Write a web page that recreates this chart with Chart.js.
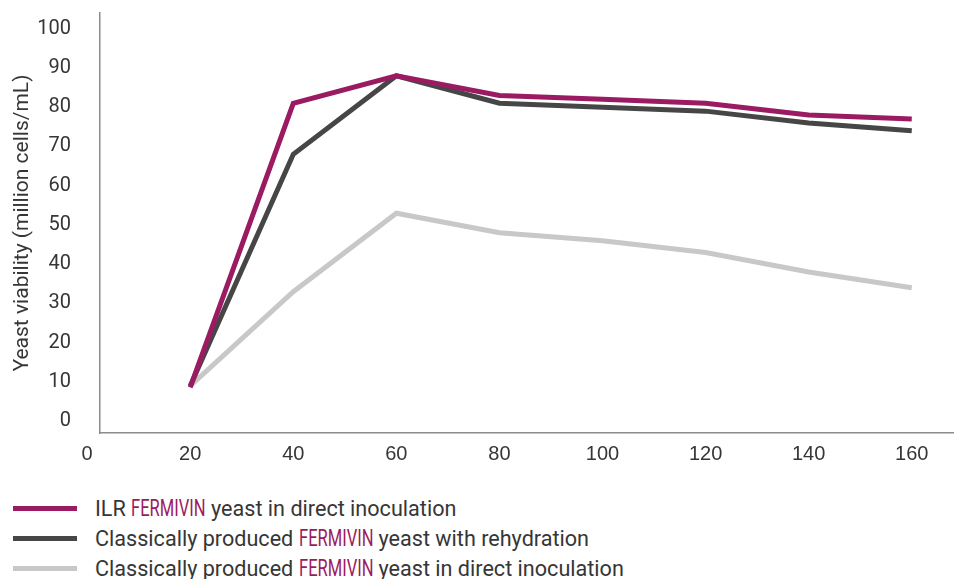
<!DOCTYPE html>
<html>
<head>
<meta charset="utf-8">
<script src="https://cdn.jsdelivr.net/npm/chart.js@4"></script>
<style>
  html, body { margin: 0; padding: 0; background: #fff; }
  body { width: 955px; height: 579px; position: relative; overflow: hidden; font-family: Roboto, "Noto Sans", sans-serif; }
  #wrap { position: absolute; left: 0; top: -28px; width: 955px; height: 503px; }
  .legend { position: absolute; left: 0; top: 494px; }
  .item { position: relative; height: 30px; line-height: 30px; font-size: 21.6px; color: #363636; white-space: nowrap; }
  .swatch { position: absolute; left: 13px; top: 12px; width: 64px; height: 5px; }
  .label { position: absolute; left: 95px; top: 0; }
  .brand { display: inline-block; font-size: 23px; color: #9b1b63; transform: scaleX(0.72); transform-origin: 0 50%; }
</style>
</head>
<body>
<div id="wrap"><canvas id="chart"></canvas></div>
<div class="legend" id="legend"></div>
<script>
// ------------------------------------------------------------
//  Data
// ------------------------------------------------------------
var X_VALUES = [20, 40, 60, 80, 100, 120, 140, 160];
var ILR_DIRECT     = [8.6, 81, 88, 83, 82, 81, 78, 77];
var CLASSIC_REHYD  = [9, 68, 88, 81, 80, 79, 76, 74];
var CLASSIC_DIRECT = [9, 33, 53, 48, 46, 43, 38, 34];
var X_TICKS = [0, 20, 40, 60, 80, 100, 120, 140, 160];
var Y_TICKS = [0, 10, 20, 30, 40, 50, 60, 70, 80, 90, 100];

var SERIES = [
  { pre: 'ILR ', post: ' yeast in direct inoculation', data: ILR_DIRECT, color: '#9b1b63' },
  { pre: 'Classically produced ', post: ' yeast with rehydration', data: CLASSIC_REHYD, color: '#464646' },
  { pre: 'Classically produced ', post: ' yeast in direct inoculation', data: CLASSIC_DIRECT, color: '#c8c8c8' }
];

function points(values) {
  return X_VALUES.map(function (x, i) { return { x: x, y: values[i] }; });
}

var AXIS_COLOR = '#8c8c8c';
var TEXT_COLOR = '#363636';

new Chart(document.getElementById('chart'), {
  type: 'line',
  data: {
    datasets: SERIES.map(function (s) {
      return {
        label: s.pre + 'FERMIVIN' + s.post,
        data: points(s.data),
        borderColor: s.color,
        backgroundColor: s.color,
        borderWidth: 5,
        pointRadius: 0,
        tension: 0,
        fill: false
      };
    })
  },
  options: {
    responsive: true,
    maintainAspectRatio: false,
    animation: false,
    layout: { padding: { top: 12, right: 2, left: 0, bottom: 0 } },
    plugins: { legend: { display: false }, tooltip: { enabled: false } },
    scales: {
      x: {
        type: 'linear',
        min: 2.5,
        max: 168,
        afterBuildTicks: function (scale) { scale.ticks = X_TICKS.map(function (v) { return { value: v }; }); },
        afterFit: function (scale) { scale.height = 42; },
        grid: { display: false, drawTicks: false },
        border: { display: true, color: AXIS_COLOR, width: 1.5 },
        ticks: { color: TEXT_COLOR, font: { family: '"Liberation Sans", Arial', size: 20 }, padding: 9, maxRotation: 0, autoSkip: false }
      },
      y: {
        min: -3,
        max: 104,
        afterBuildTicks: function (scale) { scale.ticks = Y_TICKS.map(function (v) { return { value: v }; }); },
        afterFit: function (scale) { scale.width = 100; },
        grid: { display: false, drawTicks: false },
        border: { display: true, color: AXIS_COLOR, width: 1.5 },
        ticks: { color: TEXT_COLOR, font: { family: 'Roboto', size: 20 }, padding: 29, autoSkip: false },
        title: {
          display: true,
          text: 'Yeast viability (million cells/mL)',
          color: TEXT_COLOR,
          font: { family: 'Roboto', size: 21 },
          padding: { top: 10, bottom: 0 }
        }
      }
    }
  }
});

// ------------------------------------------------------------
//  Legend (HTML, brand name in condensed magenta)
// ------------------------------------------------------------
var legend = document.getElementById('legend');
SERIES.forEach(function (s) {
  var item = document.createElement('div');
  item.className = 'item';
  item.innerHTML = '<span class="swatch" style="background:' + s.color + '"></span>' +
    '<span class="label">' + s.pre + '<span class="brand">FERMIVIN</span>' + s.post + '</span>';
  legend.appendChild(item);
});
// squeeze the brand name: scaleX keeps layout width, so pull the rest back
Array.prototype.forEach.call(document.querySelectorAll('.brand'), function (el) {
  el.style.marginRight = (-(1 - 0.72) * el.offsetWidth) + 'px';
});
</script>
</body>
</html>
